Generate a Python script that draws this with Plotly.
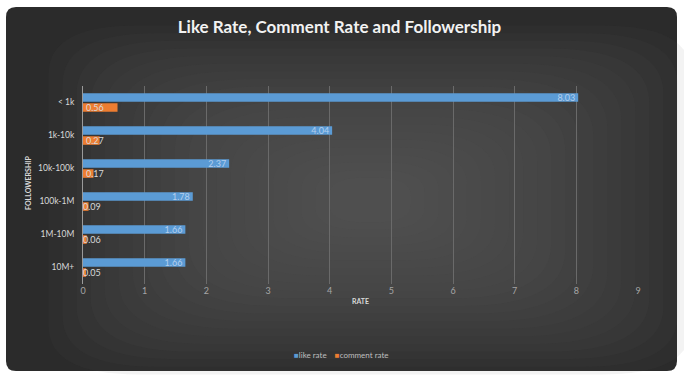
import plotly.graph_objects as go

categories = ["< 1k", "1k-10k", "10k-100k", "100k-1M", "1M-10M", "10M+"]
like_rate = [8.03, 4.04, 2.37, 1.78, 1.66, 1.66]
comment_rate = [0.56, 0.27, 0.17, 0.09, 0.06, 0.05]
x_ticks = [0, 1, 2, 3, 4, 5, 6, 7, 8, 9]

W, H = 684, 379
L, R, T, B = 83, 46, 86, 95
PW, PH = W - L - R, H - T - B
FONT = "Lato"

def px(x):
    return (x - L) / PW

def py(y):
    return (H - B - y) / PH

fig = go.Figure()
fig.add_trace(go.Bar(
    y=categories, x=like_rate, orientation="h", name="like rate",
    marker=dict(color="#5B9BD5", line=dict(width=0)),
    text=[f"{v:.2f}" for v in like_rate], textposition="inside",
    insidetextanchor="end", textangle=0, constraintext="none",
    textfont=dict(family=FONT, size=9, color="#B4CFEE"),
))
fig.add_trace(go.Bar(
    y=categories, x=comment_rate, orientation="h", name="comment rate",
    marker=dict(color="#ED7D31", line=dict(width=0)),
    text=[f"{v:.2f}" for v in comment_rate], textposition="inside",
    insidetextanchor="start", textangle=0, constraintext="none",
    textfont=dict(family=FONT, size=9, color="#D9D9D9"),
))

# panel background with soft vignette
X0, Y0, X1, Y1, RAD = 6, 7, 677, 371, 10
def rounded(xa, ya, xb, yb, rx, ry):
    p = lambda a, b: f"{px(a)},{py(b)}"
    return (f"M{p(xa+rx, ya)} L{p(xb-rx, ya)} Q{p(xb, ya)} {p(xb, ya+ry)} "
            f"L{p(xb, yb-ry)} Q{p(xb, yb)} {p(xb-rx, yb)} L{p(xa+rx, yb)} "
            f"Q{p(xa, yb)} {p(xa, yb-ry)} L{p(xa, ya+ry)} Q{p(xa, ya)} {p(xa+rx, ya)} Z")

shapes = [dict(type="path", xref="paper", yref="paper",
               path=rounded(X0, Y0, X1, Y1, RAD, RAD),
               fillcolor="#2B2B2B", line=dict(width=0), layer="below")]
n = 22
cx, cy = 370, 200
for i in range(1, n):
    f = i / n
    hw = (X1 - X0) / 2 * (1 - f * 0.92)
    hh = (Y1 - Y0) / 2 * (1 - f * 0.92)
    rx, ry = hw * (0.25 + 0.6 * f), hh * (0.25 + 0.6 * f)
    shapes.append(dict(type="path", xref="paper", yref="paper",
                       path=rounded(cx - hw, cy - hh, cx + hw, cy + hh, rx, ry),
                       fillcolor="rgba(96,96,96,0.075)", line=dict(width=0), layer="below"))

legend_text = ("<span style='color:#5B9BD5'>■</span>like rate    "
               "<span style='color:#ED7D31'>■</span>comment rate")

fig.update_layout(
    width=W, height=H,
    paper_bgcolor="white", plot_bgcolor="rgba(0,0,0,0)",
    margin=dict(l=L, r=R, t=T, b=B),
    barmode="group", bargap=0.39, bargroupgap=0.15,
    shapes=shapes, showlegend=False,
    title=dict(text="<b>Like Rate, Comment Rate and Followership</b>",
               x=(339.5) / W, xanchor="center", y=1 - 27 / H, yanchor="middle",
               font=dict(family=FONT, size=17, color="#F2F2F2")),
    font=dict(family=FONT),
    xaxis=dict(range=[0, 9], tickvals=x_ticks, showgrid=True, gridcolor="#6A6A6A",
               gridwidth=1, zeroline=False, showline=False, ticks="", automargin=False,
               tickfont=dict(family=FONT, size=9, color="#A6A6A6"),
               title=dict(text="<b>RATE</b>", font=dict(family=FONT, size=7, color="#D9D9D9"),
                          standoff=4)),
    yaxis=dict(autorange="reversed", showgrid=False, showline=True, linecolor="#9A9A9A",
               linewidth=1, ticks="", ticklabelstandoff=6, automargin=False,
               tickfont=dict(family=FONT, size=8.5, color="#D9D9D9")),
    annotations=[
        dict(text=legend_text, xref="paper", yref="paper", x=px(341),
             y=py(355), xanchor="center", yanchor="middle", showarrow=False,
             font=dict(family=FONT, size=8, color="#BFBFBF")),
        dict(text="<b>FOLLOWERSHIP</b>", xref="paper", yref="paper", x=px(28),
             y=py(183), xanchor="center", yanchor="middle", showarrow=False, textangle=-90,
             font=dict(family=FONT, size=7, color="#D9D9D9")),
    ],
)

fig.write_html("out.html", config={"displayModeBar": False},
               post_script="document.body.style.margin='0';document.body.style.overflow='hidden';")
